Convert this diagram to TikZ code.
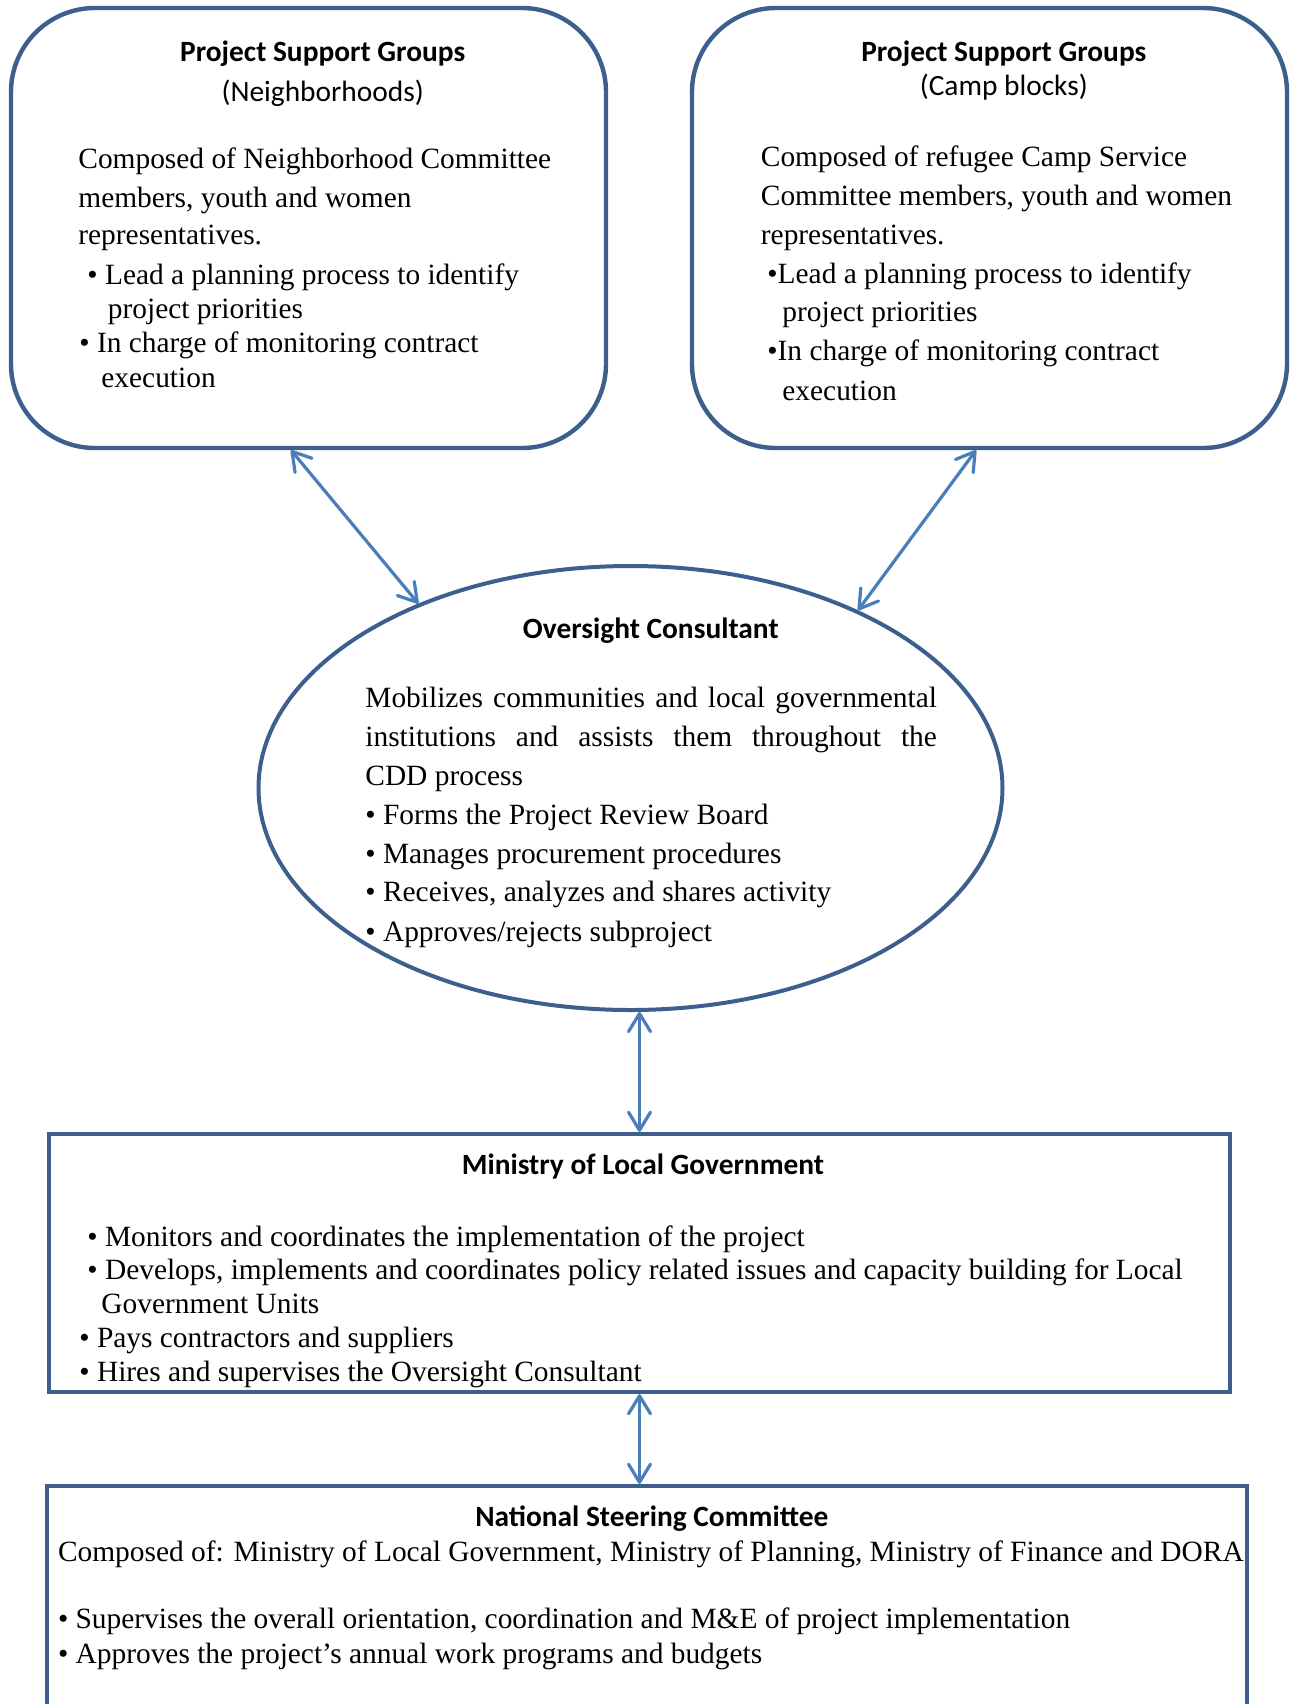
\documentclass[tikz,border=0pt]{standalone}
\usepackage{fontspec}
\setmainfont{Liberation Serif}
\newfontfamily\headfont{Carlito}
\usepackage{xcolor}
\usetikzlibrary{shapes.geometric, arrows.meta, positioning, calc}
\definecolor{boxblue}{HTML}{3C5F8E}
\definecolor{arrblue}{HTML}{4A7EBB}

\begin{document}
\begin{tikzpicture}[
    x=0.5pt, y=-0.5pt,
    txt/.style    = {inner sep=0pt, font=\fontsize{14.7}{17}\selectfont},
    body/.style   = {txt, anchor=base west},
    head/.style   = {txt, anchor=base, font=\fontsize{14.7}{17}\selectfont\headfont\bfseries},
    subhead/.style= {txt, anchor=base, font=\fontsize{14.7}{17}\selectfont\headfont},
    psg/.style    = {rectangle, rounded corners=42pt, draw=boxblue, line width=2.2pt,
                     minimum width=297.5pt, minimum height=220pt, inner sep=0pt},
    oval/.style   = {ellipse, draw=boxblue, line width=2pt,
                     minimum width=372pt, minimum height=222pt, inner sep=0pt},
    plainbox/.style = {rectangle, draw=boxblue, line width=2.2pt, inner sep=0pt},
    link/.style   = {{Straight Barb[length=9pt,width=11pt,round]}-{Straight Barb[length=9pt,width=11pt,round]},
                     line width=1.6pt, draw=arrblue},
]
\path[use as bounding box, clip] (0,0) rectangle (1295,1704);

% ---- shapes ----
\node[psg] (psgl) at (308.5,228) {};
\node[psg] (psgr) at (989.5,228) {};
\node[oval] (oc) at (630.5,788) {};
\node[plainbox, minimum width=590.5pt, minimum height=129pt] (mlg) at (639.5,1263) {};
\node[plainbox, minimum width=600pt, minimum height=137pt] (nsc) at (647,1623) {};

% ---- connectors ----
\draw[link] ([xshift=-8.75pt]psgl.south) -- (oc.139.5);
\draw[link] ([xshift=-6.75pt]psgr.south) -- (oc.38.6);
\draw[link] (oc.south -| mlg.north) -- (mlg.north);
\draw[link] (mlg.south) -- (nsc.north -| mlg.south);

% ---- neighborhoods ----
\node[head]    (psglh) at (322.7,61)  {Project Support Groups};
\node[subhead] (psgls) at (322.7,101) {(Neighborhoods)};
\node[body] (psgl1) at (78,168.5)  {Composed of Neighborhood Committee};
\node[body] (psgl2) at (78,207.6)  {members, youth and women};
\node[body] (psgl3) at (78,244.6)  {representatives.};
\node[body] (psgl4) at (87,284.8)  {• Lead a planning process to identify};
\node[body] (psgl5) at (107.5,318.5) {project priorities};
\node[body] (psgl6) at (79,352)    {• In charge of monitoring contract};
\node[body] (psgl7) at (101,387)   {execution};

% ---- camp blocks ----
\node[head]    (psgrh) at (1003.8,61)  {Project Support Groups};
\node[subhead] (psgrs) at (1003.8,95.7) {(Camp blocks)};
\node[body] (psgr1) at (760.5,166.4) {Composed of refugee Camp Service};
\node[body] (psgr2) at (760.5,205.5) {Committee members, youth and women};
\node[body] (psgr3) at (760.5,244.6) {representatives.};
\node[body] (psgr4) at (767,283.7)   {•Lead a planning process to identify};
\node[body] (psgr5) at (782,321.7)   {project priorities};
\node[body] (psgr6) at (767,360.8)   {•In charge of monitoring contract};
\node[body] (psgr7) at (782,400)     {execution};

% ---- oversight consultant ----
\node[head] (och) at (650.8,638) {Oversight Consultant};
\node[body] (oc1) at (365,707.4) {\makebox[285.75pt][s]{Mobilizes communities and local governmental}};
\node[body] (oc2) at (365,746.5) {\makebox[285.75pt][s]{institutions and assists them throughout the}};
\node[body] (oc3) at (365,785.6) {CDD process};
\node[body] (oc4) at (365,824.7) {• Forms the Project Review Board};
\node[body] (oc5) at (365,863.8) {• Manages procurement procedures};
\node[body] (oc6) at (365,901.8) {• Receives, analyzes and shares activity};
\node[body] (oc7) at (365,941)   {• Approves/rejects subproject};

% ---- ministry ----
\node[head] (mlgh) at (643,1174.5) {Ministry of Local Government};
\node[body] (mlg1) at (87,1246.2)  {• Monitors and coordinates the implementation of the project};
\node[body] (mlg2) at (87,1279.9)  {• Develops, implements and coordinates policy related issues and capacity building for Local};
\node[body] (mlg3) at (101,1313.6) {Government Units};
\node[body] (mlg4) at (79,1347.3)  {• Pays contractors and suppliers};
\node[body] (mlg5) at (79,1381)    {• Hires and supervises the Oversight Consultant};

% ---- steering committee ----
\node[head] (nsch) at (651.8,1526.5) {National Steering Committee};
\node[body] (nsc1) at (57.6,1561.3) {Composed of: Ministry of Local Government, Ministry of Planning, Ministry of Finance and DORA};
\node[body] (nsc2) at (57.6,1628.6) {• Supervises the overall orientation, coordination and M\&E of project implementation};
\node[body] (nsc3) at (57.6,1663.4) {• Approves the project’s annual work programs and budgets};

\end{tikzpicture}
\end{document}
